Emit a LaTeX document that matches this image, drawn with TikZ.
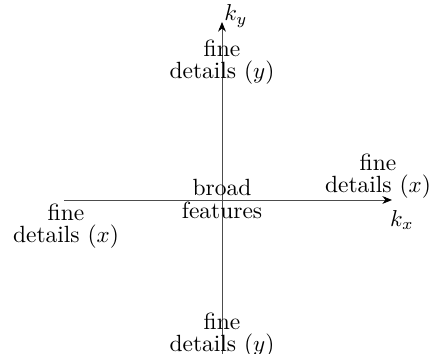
\documentclass[tikz,border=0pt]{standalone}
\usetikzlibrary{arrows.meta}
\begin{document}
\begin{tikzpicture}[x=0.4348pt,y=-0.4348pt,
  lbl/.style={align=center,inner sep=0pt,font=\fontsize{10.2}{9.6}\selectfont},
  axis/.style={-{Stealth[length=4.2pt,width=3.4pt,color=black]},draw=black!70,line width=0.4pt}]
\useasboundingbox (0,0) rectangle (430,354);
\coordinate (xl) at (64,200);
\coordinate (xr) at (392,200);
\coordinate (yb) at (222,354);
\coordinate (yt) at (222,22);
\draw[axis] (xl) -- (xr);
\draw[axis] (yb) -- (yt);
\node[inner sep=0pt] (ky) at (236,16) {$k_y$};
\node[inner sep=0pt] (kx) at (402,220) {$k_x$};
\node[lbl] (top) at (222,62) {fine\\details ($y$)};
\node[lbl] (right) at (378,176) {fine\\details ($x$)};
\node[lbl] (left) at (66,226) {fine\\details ($x$)};
\node[lbl] (center) at (222,199) {broad\\features};
\node[lbl] (bottom) at (222,335) {fine\\details ($y$)};
\end{tikzpicture}
\end{document}
